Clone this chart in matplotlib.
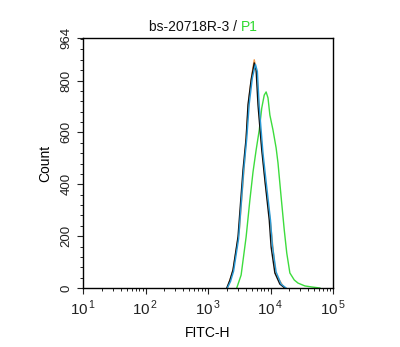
import matplotlib.pyplot as plt
from matplotlib.ticker import FixedLocator, LogLocator, NullFormatter, FuncFormatter
import numpy as np

plt.rcParams['font.family'] = ['Liberation Sans', 'DejaVu Sans']
plt.rcParams['mathtext.fontset'] = 'custom'
plt.rcParams['mathtext.rm'] = 'Liberation Sans'

# histogram traces: log10(FITC-H) and counts
black_log = [3.30, 3.35, 3.40, 3.48, 3.56, 3.61, 3.64, 3.69, 3.74, 3.77, 3.80, 3.86, 3.91, 3.98, 4.01, 4.07, 4.15, 4.23]
black_cnt = [0, 30, 70, 197, 455, 578, 706, 802, 868, 840, 706, 532, 416, 262, 158, 58, 15, 0]

blue_log = [3.31, 3.36, 3.41, 3.49, 3.57, 3.62, 3.66, 3.71, 3.76, 3.79, 3.82, 3.88, 3.93, 4.00, 4.03, 4.09, 4.17, 4.25]
blue_cnt = [0, 25, 65, 190, 450, 575, 710, 810, 862, 835, 700, 520, 410, 262, 165, 62, 15, 0]

orange_log = [3.31, 3.40, 3.50, 3.58, 3.65, 3.70, 3.74, 3.78, 3.84, 3.92, 4.00, 4.08, 4.22]
orange_cnt = [0, 68, 220, 470, 720, 820, 880, 830, 600, 400, 250, 55, 0]

green_log = [3.46, 3.53, 3.61, 3.67, 3.72, 3.77, 3.82, 3.86, 3.90, 3.93, 3.96, 3.99, 4.04, 4.09, 4.12,
             4.17, 4.22, 4.26, 4.31, 4.38, 4.44, 4.55, 4.66, 4.79]
green_cnt = [0, 50, 197, 339, 447, 532, 609, 694, 744, 756, 733, 667, 609, 540, 482,
             351, 224, 135, 58, 31, 19, 8, 4, 0]

y_ticks = [0, 200, 400, 600, 800, 964]

fig = plt.figure(figsize=(4.0, 3.47), dpi=100)
ax = fig.add_axes([0.2075, 0.170, 0.625, 0.7205])

for lg, cnt, col in [(orange_log, orange_cnt, '#f29a4a'),
                     (green_log, green_cnt, '#3ddc3d'),
                     (black_log, black_cnt, '#111111'),
                     (blue_log, blue_cnt, '#2a9bd8')]:
    ax.plot([10 ** v for v in lg], cnt, color=col, linewidth=1.0)

ax.set_xscale('log')
ax.set_xlim(10, 1e5)
ax.set_ylim(0, 964)
ax.xaxis.set_major_locator(LogLocator(base=10, numticks=10))
ax.xaxis.set_major_formatter(FuncFormatter(lambda v, p: '10$^{\\,%d}$' % round(np.log10(v))))
ax.xaxis.set_minor_locator(LogLocator(base=10, subs=range(2, 10), numticks=20))
ax.xaxis.set_minor_formatter(NullFormatter())
ax.set_yticks(y_ticks)
ax.yaxis.set_minor_locator(FixedLocator(range(0, 964, 40)))

ax.tick_params(axis='both', which='major', direction='out', length=4, width=0.8, labelsize=9.5, colors='#222222')
ax.tick_params(axis='x', which='major', labelsize=11)
ax.tick_params(axis='both', which='minor', direction='out', length=2, width=0.6)
for lab in ax.get_yticklabels():
    lab.set_rotation(90)
    lab.set_va('center')
for sp in ax.spines.values():
    sp.set_linewidth(1.0)

ax.set_xlabel('FITC-H', fontsize=10, labelpad=6)
ax.set_ylabel('Count', fontsize=10, labelpad=6)

fig.text(0.6025, 0.922, 'bs-20718R-3 / ', ha='right', va='center', fontsize=10, color='#111111')
fig.text(0.6025, 0.922, 'P1', ha='left', va='center', fontsize=10, color='#2fd92f')

fig.savefig('out.png', dpi=100)
